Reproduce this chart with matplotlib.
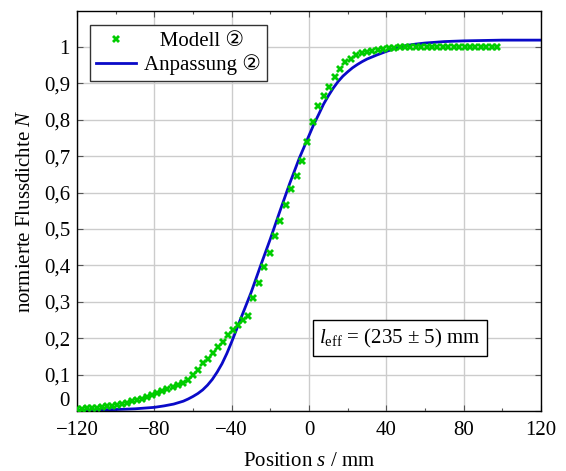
import matplotlib
matplotlib.use("Agg")
import matplotlib.pyplot as plt

# Modell (green crosses), position s in mm, normalised flux density N
model_s = [-120.0, -117.4, -114.8, -112.2, -109.6, -107.0, -104.4, -101.8, -99.2, -96.6,
           -94.0, -91.4, -88.8, -86.2, -83.6, -81.0, -78.4, -75.8, -73.2, -70.6,
           -68.0, -65.4, -62.8, -60.2, -57.6, -55.0, -52.4, -49.8, -47.2, -44.6,
           -42.0, -39.4, -36.8, -34.2, -31.6, -28.8, -26.0, -23.2, -20.4, -17.6,
           -14.8, -12.0, -9.2, -6.4, -3.6, -0.8, 2.0, 4.8, 7.6, 10.4,
           13.2, 16.0, 18.8, 21.6, 24.4, 27.2, 30.0, 32.8, 35.6, 38.4,
           41.2, 44.0, 46.8, 49.6, 52.4, 55.2, 58.0, 60.8, 63.6, 66.4,
           69.2, 72.0, 74.8, 77.6, 80.4, 83.2, 86.0, 88.8, 91.6, 94.4, 97.2]
model_n = [0.005, 0.006, 0.007, 0.008, 0.009, 0.011, 0.013, 0.015, 0.017, 0.019,
           0.023, 0.027, 0.030, 0.034, 0.038, 0.043, 0.049, 0.054, 0.060, 0.065,
           0.071, 0.078, 0.085, 0.099, 0.113, 0.131, 0.144, 0.158, 0.177, 0.190,
           0.209, 0.222, 0.236, 0.249, 0.262, 0.311, 0.352, 0.395, 0.435, 0.482,
           0.521, 0.565, 0.610, 0.647, 0.688, 0.739, 0.794, 0.837, 0.866, 0.891,
           0.917, 0.941, 0.958, 0.968, 0.978, 0.984, 0.987, 0.990, 0.993, 0.995,
           0.997, 0.998, 0.999, 1.000, 1.000, 1.000, 1.000, 1.000, 1.000, 1.000,
           1.000, 1.000, 1.000, 1.000, 1.000, 1.000, 1.000, 1.000, 1.000, 1.000, 1.000]

# Anpassung (blue fit curve)
fit_s = [-120, -110, -100, -90, -85, -80, -75, -70, -65, -62.5, -60, -57.5, -55,
         -52.5, -50, -47.5, -45, -42.5, -40, -35, -30, -25, -20, -15, -10, -5,
         0, 2.5, 5, 7.5, 10, 12.5, 15, 17.5, 20, 22.5, 25, 27.5, 30, 35, 40, 45,
         50, 55, 60, 70, 80, 100, 120]
fit_n = [0.002, 0.003, 0.004, 0.006, 0.008, 0.010, 0.014, 0.019, 0.027, 0.033,
         0.040, 0.048, 0.058, 0.071, 0.087, 0.107, 0.130, 0.158, 0.190, 0.258,
         0.325, 0.400, 0.473, 0.550, 0.625, 0.695, 0.757, 0.788, 0.815, 0.843,
         0.866, 0.887, 0.905, 0.920, 0.932, 0.943, 0.952, 0.960, 0.967, 0.978,
         0.988, 0.997, 1.004, 1.008, 1.011, 1.015, 1.017, 1.019, 1.019]

x_ticks = [-120, -80, -40, 0, 40, 80, 120]
x_tick_labels = ["\u2212120", "\u221280", "\u221240", "0", "40", "80", "120"]
x_minor = [-100, -60, -20, 20, 60, 100]
y_ticks = [0, 0.1, 0.2, 0.3, 0.4, 0.5, 0.6, 0.7, 0.8, 0.9, 1.0]
y_tick_labels = ["0", "0,1", "0,2", "0,3", "0,4", "0,5", "0,6", "0,7", "0,8", "0,9", "1"]

plt.rcParams['font.family'] = ['Liberation Serif', 'DejaVu Sans']
plt.rcParams['mathtext.fontset'] = 'custom'
plt.rcParams['mathtext.rm'] = 'Liberation Serif'
plt.rcParams['mathtext.it'] = 'Liberation Serif:italic'
plt.rcParams['font.size'] = 15

fig = plt.figure(figsize=(5.66, 4.71), dpi=100)
ax = fig.add_axes([0.136, 0.1274, 0.82, 0.85])

ax.grid(True, which='major', color='#cccccc', linewidth=1.0)
ax.set_axisbelow(True)

ax.plot(model_s, model_n, linestyle='none', marker='X', markersize=5.8,
        color='#00cc00', markeredgewidth=0, label='   Modell ②', zorder=3)
ax.plot(fit_s, fit_n, color='#0a0ac8', linewidth=2.0, label='Anpassung ②', zorder=2)

ax.set_xlim(-120, 120)
ax.set_ylim(0, 1.1)
ax.set_xticks(x_ticks)
ax.set_xticklabels(x_tick_labels)
ax.set_xticks(x_minor, minor=True)
ax.set_yticks(y_ticks)
ax.set_yticklabels(y_tick_labels)
ax.get_yticklabels()[0].set_verticalalignment('bottom')
ax.tick_params(which='both', direction='in', top=True, right=True,
               color='#555555', width=0.8)
ax.tick_params(which='major', length=4)
ax.tick_params(axis='x', which='major', pad=7)
ax.tick_params(axis='y', which='major', pad=5)
ax.tick_params(which='minor', length=2.5)
for sp in ax.spines.values():
    sp.set_linewidth(1.0)

ax.set_xlabel('Position $s$ / mm', labelpad=9)
ax.set_ylabel('normierte Flussdichte $N$', labelpad=6)

leg = ax.legend(loc='upper left', bbox_to_anchor=(0.028, 0.964), borderaxespad=0,
                fancybox=False, edgecolor='#333333', framealpha=1,
                handlelength=1.9, handletextpad=0.4, borderpad=0.3,
                labelspacing=0.15, fontsize=15)
leg.get_frame().set_linewidth(1.0)

ax.text(47, 0.2, r'$l_{\mathrm{eff}}$ = (235 ± 5) mm', ha='center', va='center',
        fontsize=15,
        bbox=dict(boxstyle='square,pad=0.3', fc='white', ec='black', lw=1.0))

fig.savefig('out.png', dpi=100)
